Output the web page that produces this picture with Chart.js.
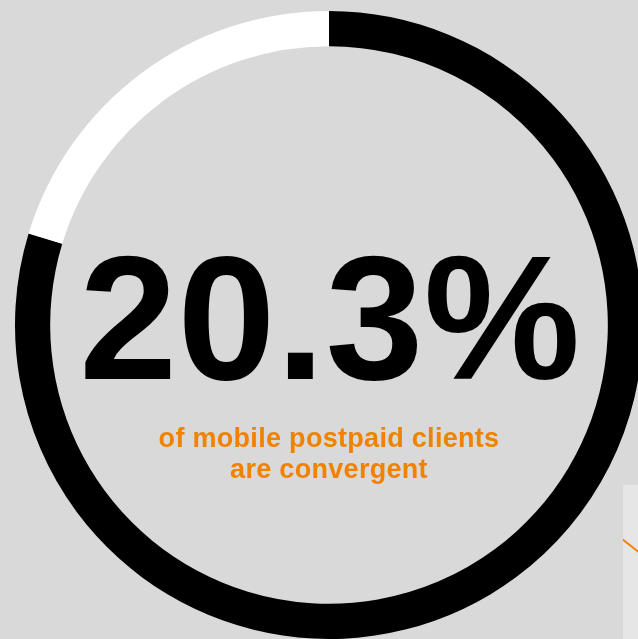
<!DOCTYPE html>
<html>
<head>
<meta charset="utf-8">
<script src="https://cdn.jsdelivr.net/npm/chart.js@4"></script>
<style>
  html, body { margin: 0; padding: 0; background: #d9d9d9; overflow: hidden; }
  body { width: 638px; height: 639px; position: relative; }
  #wrap { position: absolute; left: 15px; top: 11px; width: 628px; height: 628px; }
  #side { position: absolute; left: 623px; top: 485px; width: 20px; height: 160px; background: #e6e6e6; overflow: hidden; }
  #side span { position: absolute; left: -2px; top: 52px; width: 26px; height: 2px; background: #f08200; transform: rotate(38deg); transform-origin: 0 0; }
</style>
</head>
<body>
<div id="wrap"><canvas id="chart" width="628" height="628"></canvas></div>
<div id="side"><span></span></div>
<script>
// Datos del gráfico
const labels = ['Convergent', 'Other'];
const values = [20.3, 79.7];
const colors = ['#ffffff', '#000000'];
const bigLabel = '20.3%';
const caption = ['of mobile postpaid clients', 'are convergent'];

// Texto central
const centerText = {
  id: 'centerText',
  afterDraw(chart) {
    const { ctx } = chart;
    const arc = chart.getDatasetMeta(0).data[0];
    const cx = arc.x, cy = arc.y;
    ctx.save();
    ctx.textAlign = 'center';
    ctx.textBaseline = 'alphabetic';
    ctx.fillStyle = '#000';
    ctx.font = "bold 176px 'Liberation Sans', Arial, sans-serif";
    ctx.letterSpacing = '0.5px';
    ctx.fillText(bigLabel, cx + 1, cy + 54);
    ctx.fillStyle = '#f08200';
    ctx.font = "bold 27px 'Liberation Sans', Arial, sans-serif";
    ctx.letterSpacing = '0.3px';
    ctx.fillText(caption[0], cx, cy + 122);
    ctx.fillText(caption[1], cx, cy + 153);
    ctx.restore();
  }
};

// Negro desde arriba en sentido horario, luego el tramo blanco
new Chart(document.getElementById('chart'), {
  type: 'doughnut',
  data: {
    labels: [labels[1], labels[0]],
    datasets: [{
      data: [values[1], values[0]],
      backgroundColor: [colors[1], colors[0]],
      borderWidth: 0
    }]
  },
  options: {
    responsive: false,
    animation: false,
    cutout: '88.8%',
    layout: { padding: 0 },
    plugins: { legend: { display: false }, tooltip: { enabled: false } }
  },
  plugins: [centerText]
});
</script>
</body>
</html>
